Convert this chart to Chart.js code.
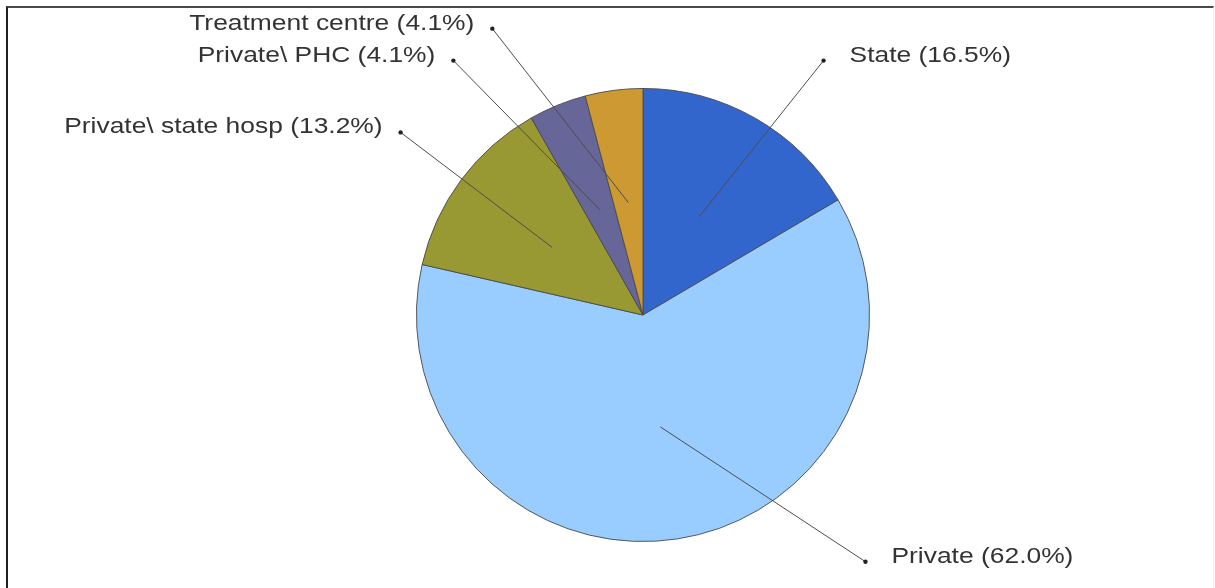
<!DOCTYPE html>
<html>
<head>
<meta charset="utf-8">
<script src="https://cdn.jsdelivr.net/npm/chart.js@4/dist/chart.umd.min.js"></script>
<style>
  html, body { margin: 0; padding: 0; background: #fff; }
  #wrap { position: relative; width: 1215px; height: 588px; overflow: hidden; }
  #frame { position: absolute; left: 6px; top: 6px; width: 1205px; height: 600px;
           border-top: 2px solid #4a4a4a; border-left: 2px solid #1e1e1e; border-right: 1px solid #f0f0f0; }
  canvas { position: absolute; left: 0; top: 0; }
</style>
</head>
<body>
<div id="wrap">
  <div id="frame"></div>
  <canvas id="c" width="1215" height="588"></canvas>
</div>
<script>
// ---- data ----
const categories = ["State", "Private", "Private\\ state hosp", "Private\\ PHC", "Treatment centre"];
const percentages = [16.5, 62.0, 13.2, 4.1, 4.1];
const labelTexts = ["State (16.5%)", "Private (62.0%)", "Private\\ state hosp (13.2%)", "Private\\ PHC (4.1%)", "Treatment centre (4.1%)"];

// ---- style / layout ----
const sliceColors = ["#3366cc", "#99ccff", "#999933", "#666699", "#cc9933"];
// label anchor dots, relative to pie centre in units of radius
const anchorOffsets = [[0.797, -1.123], [0.982, 1.089], [-1.070, -0.806], [-0.837, -1.123], [-0.665, -1.264]];
const labelSide = ["right", "right", "left", "left", "left"];
const textStretch = 1.2;

const leaderPlugin = {
  id: "leaders",
  afterDatasetsDraw(chart) {
    const ctx = chart.ctx;
    const meta = chart.getDatasetMeta(0);
    ctx.save();
    meta.data.forEach((arc, i) => {
      const p = arc.getProps(["x", "y", "startAngle", "endAngle", "outerRadius"], true);
      const mid = (p.startAngle + p.endAngle) / 2;
      const r = p.outerRadius;
      const ix = p.x + Math.cos(mid) * r * 0.5;
      const iy = p.y + Math.sin(mid) * r * 0.5;
      const ax = p.x + anchorOffsets[i][0] * r;
      const ay = p.y + anchorOffsets[i][1] * r;
      ctx.strokeStyle = "#4d4d4d";
      ctx.lineWidth = 1;
      ctx.beginPath();
      ctx.moveTo(ix, iy);
      ctx.lineTo(ax, ay);
      ctx.stroke();
      ctx.fillStyle = "#222";
      ctx.beginPath();
      ctx.arc(ax, ay, 2.2, 0, Math.PI * 2);
      ctx.fill();
      ctx.save();
      ctx.font = '22px "Liberation Sans", Arial, sans-serif';
      ctx.fillStyle = "#333";
      ctx.textBaseline = "middle";
      if (labelSide[i] === "right") {
        ctx.translate(ax + 26, ay - 5);
        ctx.scale(textStretch, 1);
        ctx.textAlign = "left";
      } else {
        ctx.translate(ax - 18, ay - 5);
        ctx.scale(textStretch, 1);
        ctx.textAlign = "right";
      }
      ctx.fillText(labelTexts[i], 0, 0);
      ctx.restore();
    });
    ctx.restore();
  }
};

new Chart(document.getElementById("c"), {
  type: "pie",
  data: {
    labels: categories,
    datasets: [{
      data: percentages,
      backgroundColor: sliceColors,
      borderColor: "#4a4a4a",
      borderWidth: 0.9
    }]
  },
  options: {
    responsive: false,
    animation: false,
    layout: { padding: { top: 88, bottom: 46, left: 71, right: 0 } },
    plugins: {
      legend: { display: false },
      tooltip: { enabled: false }
    }
  },
  plugins: [leaderPlugin]
});
</script>
</body>
</html>
